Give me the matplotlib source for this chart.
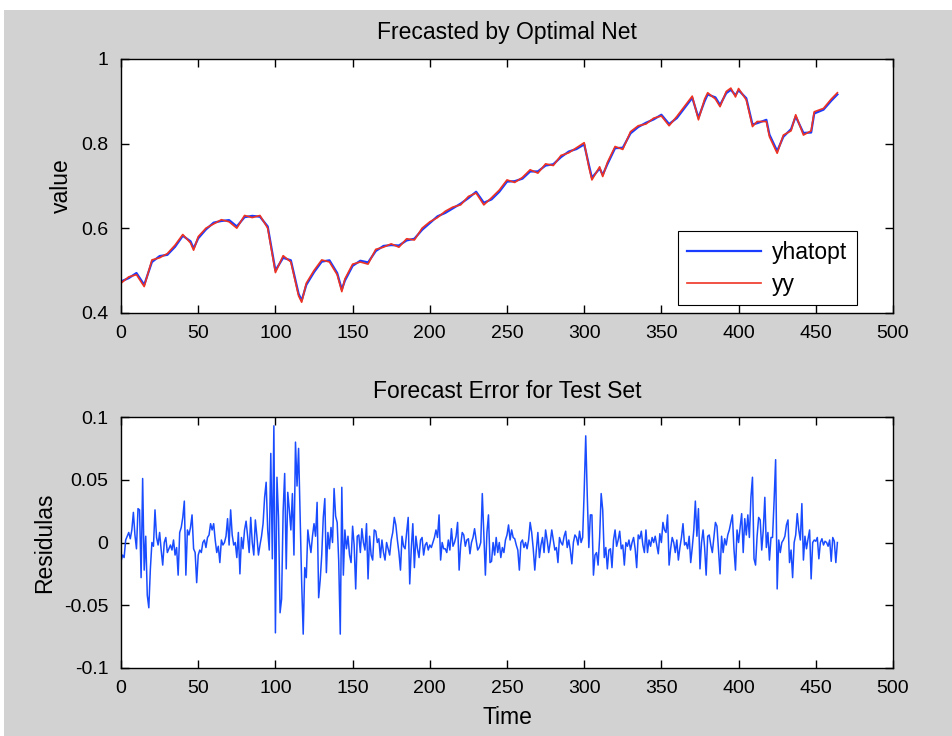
import numpy as np
import matplotlib
matplotlib.use("Agg")
import matplotlib.pyplot as plt
from matplotlib.patches import Rectangle

# top panel: series (sample index, value)
t_top = [0, 5, 10, 15, 20, 25, 30, 35, 40, 45, 47, 50, 55, 60, 65, 70, 75, 80, 85, 90,
         95, 100, 105, 110, 115, 117, 120, 125, 130, 135, 140, 143, 145, 150, 155, 160,
         165, 170, 175, 180, 185, 190, 195, 200, 205, 210, 215, 220, 225, 230, 235, 240,
         245, 250, 255, 260, 265, 270, 275, 280, 285, 290, 295, 300, 303, 305, 310, 312,
         315, 320, 325, 330, 335, 340, 345, 350, 355, 360, 365, 370, 374, 378, 380, 385,
         388, 392, 395, 398, 400, 405, 409, 412, 418, 420, 425, 429, 434, 437, 442, 447,
         449, 455, 460, 464]
yy = [0.470, 0.485, 0.490, 0.462, 0.525, 0.530, 0.540, 0.560, 0.585, 0.565, 0.548, 0.580,
      0.600, 0.610, 0.620, 0.615, 0.600, 0.630, 0.625, 0.630, 0.600, 0.495, 0.535, 0.520,
      0.440, 0.425, 0.470, 0.500, 0.525, 0.520, 0.490, 0.450, 0.480, 0.515, 0.520, 0.515,
      0.550, 0.555, 0.563, 0.555, 0.575, 0.572, 0.600, 0.615, 0.625, 0.640, 0.650, 0.655,
      0.675, 0.683, 0.655, 0.672, 0.690, 0.714, 0.708, 0.720, 0.738, 0.730, 0.752, 0.748,
      0.772, 0.778, 0.790, 0.802, 0.745, 0.714, 0.745, 0.722, 0.755, 0.793, 0.786, 0.828,
      0.842, 0.846, 0.860, 0.865, 0.842, 0.864, 0.888, 0.912, 0.856, 0.905, 0.920, 0.905,
      0.887, 0.923, 0.931, 0.910, 0.930, 0.903, 0.840, 0.852, 0.852, 0.816, 0.777, 0.820,
      0.830, 0.868, 0.820, 0.830, 0.875, 0.883, 0.905, 0.920]
yhatopt = [0.474, 0.482, 0.494, 0.466, 0.520, 0.534, 0.537, 0.556, 0.582, 0.569, 0.552, 0.576,
           0.597, 0.613, 0.617, 0.619, 0.604, 0.626, 0.629, 0.627, 0.604, 0.500, 0.530, 0.524,
           0.445, 0.429, 0.466, 0.496, 0.521, 0.524, 0.494, 0.455, 0.476, 0.511, 0.523, 0.519,
           0.546, 0.558, 0.560, 0.559, 0.571, 0.575, 0.596, 0.612, 0.628, 0.636, 0.647, 0.658,
           0.671, 0.686, 0.660, 0.668, 0.686, 0.710, 0.711, 0.717, 0.734, 0.734, 0.748, 0.751,
           0.768, 0.781, 0.787, 0.798, 0.750, 0.719, 0.741, 0.726, 0.751, 0.789, 0.790, 0.824,
           0.839, 0.849, 0.857, 0.868, 0.846, 0.860, 0.884, 0.908, 0.861, 0.900, 0.916, 0.909,
           0.891, 0.919, 0.927, 0.914, 0.926, 0.907, 0.845, 0.848, 0.856, 0.821, 0.782, 0.816,
           0.834, 0.864, 0.825, 0.826, 0.871, 0.880, 0.901, 0.916]

# bottom panel: residuals (in 1/1000), one value per sample 0..464
resid_milli = [
    -15, -10, -12, 2, 5, 8, 3, 10, 24, 6,
    -5, 27, 26, -28, 51, -22, 5, -42, -52, -21,
    0, -3, 26, 4, -2, 8, -6, -18, 0, 4,
    -8, -5, -2, -6, 2, -10, -4, -26, 8, 12,
    20, 33, -26, 10, 6, 12, 22, -5, -8, -32,
    -10, -6, -8, 0, 2, -4, 4, 6, 15, 10,
    15, 2, -8, -3, -16, 2, -2, 0, 5, 19,
    -2, 26, 6, -2, 0, -12, 8, -25, 4, -5,
    10, 17, 5, -8, 20, 0, -10, 18, 5, -10,
    -2, 5, 15, 36, 48, 10, -6, 71, -13, 93,
    -72, 52, 20, -56, -45, 25, 55, -21, 40, 26,
    10, 39, -10, 80, 45, 75, 20, -32, -73, -20,
    -28, 10, 0, -8, 5, 15, 5, 32, -44, -30,
    -10, 20, 35, -24, 8, -5, 12, 0, 43, 21,
    16, -15, -73, 44, -26, 10, -5, 5, -10, -16,
    13, -2, -37, 5, 6, -8, 11, 0, -6, 15,
    -29, 5, -10, -14, 10, 9, 0, 3, -12, 2,
    -8, -14, 0, -5, -10, 2, 8, 20, 14, 2,
    -8, -22, 5, -3, -5, 8, 20, -33, -5, 15,
    -20, 5, -5, -12, 2, 4, -10, -2, 0, -6,
    -2, -4, 0, 4, 10, 4, 22, -14, 0, -5,
    -5, -8, 2, -6, 11, -3, 0, 5, 16, -22,
    -2, 8, 6, -3, 2, 3, -9, 0, 4, 11,
    2, -6, -4, 0, 39, 6, -26, 8, 22, -16,
    -15, 0, -10, 4, -8, 0, -12, -4, -8, 2,
    6, 14, 2, 10, 4, 3, -2, -6, -22, 0,
    2, -4, 0, -5, 2, 16, 8, -5, -22, -6,
    8, -12, -2, 4, -8, 10, 2, -8, 0, 10,
    2, -6, -4, -16, 4, 0, -2, 5, 9, -4,
    2, -6, -17, 0, 6, 4, -2, 9, 0, 4,
    41, 85, 37, -4, 22, 22, -26, -10, -8, -18,
    4, 39, 26, -12, -4, -21, -6, -5, -20, 2,
    10, -3, 2, 9, -5, -2, -18, 0, -3, 2,
    -6, 0, 4, -5, -20, 6, 3, 9, -2, -8,
    10, -8, 2, -3, 4, 0, 5, -2, -9, 7,
    0, 16, 10, 8, 22, -18, -5, 4, 0, -8,
    2, -14, -4, 4, 15, -2, 0, -5, 5, -16,
    -4, 10, 33, 5, 27, -21, 0, 10, -4, -26,
    5, 6, -2, -8, 4, 16, 13, -6, -25, 5,
    -8, 3, -2, 6, 10, 16, 22, -5, -22, 10,
    0, 12, 23, -8, 19, 6, 22, 4, 36, 52,
    -13, -18, 5, 20, 18, -6, 10, 36, -4, 8,
    -14, 4, 4, 33, 66, -37, 2, -8, 0, 2,
    5, 14, 18, -16, -6, -28, 0, 6, 23, 10,
    2, 31, -14, 5, -5, 3, 10, -29, 0, 2,
    1, 4, -13, 0, 3, -2, 1, 0, -3, 2,
    -15, 4, 1, -16, 0,
]
resid = np.array(resid_milli) / 1000.0
t_res = np.arange(len(resid))

plt.rcParams['font.family'] = ['Liberation Sans', 'DejaVu Sans']
label_fs = 16.5
tick_fs = 14

fig = plt.figure(figsize=(9.53, 7.36), dpi=100, facecolor='#d2d2d2')
# white strip at top and left edge of the screenshot
fig.patches.append(Rectangle((0, 0.987), 1, 0.013, transform=fig.transFigure,
                             facecolor='white', edgecolor='none', zorder=-1))
fig.patches.append(Rectangle((0, 0), 0.004, 1, transform=fig.transFigure,
                             facecolor='white', edgecolor='none', zorder=-1))

ax1 = fig.add_axes([0.127, 0.575, 0.810, 0.345])
ax2 = fig.add_axes([0.127, 0.0924, 0.810, 0.341])

ax1.plot(t_top, yhatopt, color='#1a3cff', lw=1.6, label='yhatopt')
ax1.plot(t_top, yy, color='#ee3322', lw=1.2, label='yy')
ax1.set_xlim(0, 500)
ax1.set_ylim(0.4, 1)
ax1.set_yticks([0.4, 0.6, 0.8, 1])
ax1.set_yticklabels(['0.4', '0.6', '0.8', '1'])
ax1.set_ylabel('value', fontsize=label_fs, labelpad=6)
ax1.set_title('Frecasted by Optimal Net', fontsize=label_fs, pad=14)
leg = ax1.legend(loc='lower right', bbox_to_anchor=(0.953, 0.031), borderaxespad=0,
                 handlelength=3.2, fancybox=False, edgecolor='black', framealpha=1,
                 borderpad=0.4, labelspacing=0.4, handletextpad=0.5, fontsize=label_fs)
leg.get_frame().set_linewidth(0.8)

ax2.plot(t_res, resid, color='#1a4cff', lw=1.1)
ax2.set_xlim(0, 500)
ax2.set_ylim(-0.1, 0.1)
ax2.set_yticks([-0.1, -0.05, 0, 0.05, 0.1])
ax2.set_yticklabels(['-0.1', '-0.05', '0', '0.05', '0.1'])
ax2.set_ylabel('Residulas', fontsize=label_fs, labelpad=6)
ax2.set_xlabel('Time', fontsize=label_fs, labelpad=6)
ax2.set_title('Forecast Error for Test Set', fontsize=label_fs, pad=14)

for ax in (ax1, ax2):
    ax.set_xticks(range(0, 501, 50))
    ax.tick_params(direction='in', top=True, right=True, length=6, width=1,
                   labelsize=tick_fs, pad=9)
    for s in ax.spines.values():
        s.set_linewidth(1)

fig.savefig('out.png', dpi=100, facecolor=fig.get_facecolor())
